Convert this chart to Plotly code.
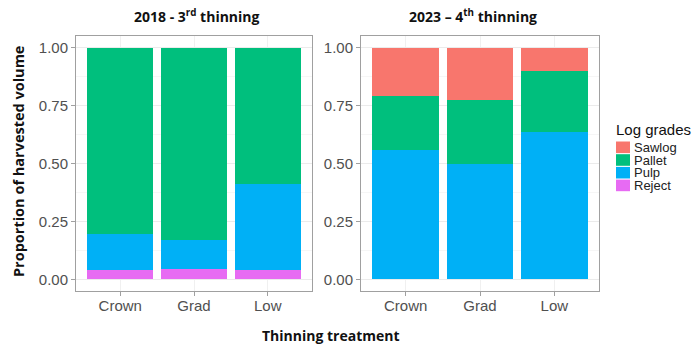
import plotly.graph_objects as go

categories = ["Crown", "Grad", "Low"]
grades = ["Reject", "Pulp", "Pallet", "Sawlog"]
legend_order = ["Sawlog", "Pallet", "Pulp", "Reject"]

# 2018 - 3rd thinning (segment proportions)
y2018_reject = [0.040, 0.046, 0.042]
y2018_pulp = [0.158, 0.126, 0.368]
y2018_pallet = [0.802, 0.828, 0.590]
y2018_sawlog = [0.0, 0.0, 0.0]

# 2023 - 4th thinning
y2023_reject = [0.0, 0.0, 0.0]
y2023_pulp = [0.557, 0.496, 0.634]
y2023_pallet = [0.236, 0.276, 0.266]
y2023_sawlog = [0.207, 0.228, 0.100]

colors = {"Sawlog": "#F8766D", "Pallet": "#00BF7D", "Pulp": "#00B0F6", "Reject": "#E76BF3"}

data2018 = {"Reject": y2018_reject, "Pulp": y2018_pulp, "Pallet": y2018_pallet, "Sawlog": y2018_sawlog}
data2023 = {"Reject": y2023_reject, "Pulp": y2023_pulp, "Pallet": y2023_pallet, "Sawlog": y2023_sawlog}

W, H = 700, 355

fig = go.Figure()
for g in grades:
    fig.add_trace(go.Bar(x=categories, y=data2018[g], name=g, marker=dict(color=colors[g], line=dict(width=0)),
                         width=0.9, xaxis="x", yaxis="y", showlegend=False))
for g in grades:
    fig.add_trace(go.Bar(x=categories, y=data2023[g], name=g, marker=dict(color=colors[g], line=dict(width=0)),
                         width=0.9, xaxis="x2", yaxis="y2", showlegend=False))

tickfont = dict(family="Liberation Sans, Arial", size=15, color="#505050")
yd = [1 - 291 / H, 1 - 36 / H]

def xaxis(domain, anchor):
    return dict(domain=domain, anchor=anchor, range=[-0.6, 2.6], showline=True, mirror=True,
                linecolor="#A0A0A0", linewidth=1, showgrid=True, gridcolor="#F0F0F0", gridwidth=1,
                ticks="outside", ticklen=4, tickcolor="#A0A0A0", tickfont=tickfont, zeroline=False,
                fixedrange=True, automargin=False, ticklabelstandoff=-3)

def yaxis(anchor):
    return dict(domain=yd, anchor=anchor, range=[-0.05, 1.05], showline=True, mirror=True,
                linecolor="#A0A0A0", linewidth=1, showgrid=True, gridcolor="#EBEBEB", gridwidth=1,
                tickvals=[0, 0.25, 0.5, 0.75, 1.0], ticktext=["0.00", "0.25", "0.50", "0.75", "1.00"],
                minor=dict(tickvals=[0.125, 0.375, 0.625, 0.875], showgrid=True, gridcolor="#F6F6F6", ticks=""),
                ticks="outside", ticklen=4, tickcolor="#A0A0A0", tickfont=tickfont, zeroline=False,
                fixedrange=True, automargin=False)

titlefont = dict(family="Open Sans, Noto Sans", size=14, color="#111111")

annotations = [
    dict(text="<b>2018 - 3<sup>rd</sup> thinning</b>", x=197 / W, y=1 - 16 / H),
    dict(text="<b>2023 – 4<sup>th</sup> thinning</b>", x=473 / W, y=1 - 16 / H),
    dict(text="<b>Proportion of harvested volume</b>", x=18 / W, y=1 - 162 / H, textangle=-90,
         font=dict(family="Open Sans, Noto Sans", size=14.5, color="#111111")),
    dict(text="<b>Thinning treatment</b>", x=331 / W, y=1 - 335 / H),
]
for a in annotations:
    a.setdefault("font", titlefont)
    a.update(xref="paper", yref="paper", showarrow=False, xanchor="center", yanchor="middle")

# Legend (drawn manually to match the compact ggplot key)
legfont = dict(family="Liberation Sans, Arial", size=13, color="#222222")
annotations.append(dict(text="Log grades", x=614 / W, y=1 - 130 / H, xref="paper", yref="paper",
                        showarrow=False, xanchor="left", yanchor="middle",
                        font=dict(family="Liberation Sans, Arial", size=15, color="#111111")))
shapes = []
key_h = 12.7
for i, g in enumerate(legend_order):
    cy = 147.3 + i * key_h
    shapes.append(dict(type="rect", xref="paper", yref="paper", x0=616 / W, x1=630 / W,
                       y0=1 - (cy + 5.8) / H, y1=1 - (cy - 5.8) / H, fillcolor=colors[g], line=dict(width=0)))
    annotations.append(dict(text=g, x=632 / W, y=1 - cy / H, xref="paper", yref="paper", showarrow=False,
                            xanchor="left", yanchor="middle", font=legfont))

fig.update_layout(
    width=W, height=H,
    margin=dict(l=0, r=0, t=0, b=0),
    paper_bgcolor="white", plot_bgcolor="white",
    barmode="stack", bargap=0.1, showlegend=False,
    xaxis=xaxis([76 / W, 312 / W], "y"),
    yaxis=yaxis("x"),
    xaxis2=xaxis([361 / W, 599 / W], "y2"),
    yaxis2=yaxis("x2"),
    annotations=annotations,
    shapes=shapes,
)

fig.write_html("out.html", config={"displayModeBar": False},
               post_script="document.body.style.margin='0';document.body.style.overflow='hidden';")
